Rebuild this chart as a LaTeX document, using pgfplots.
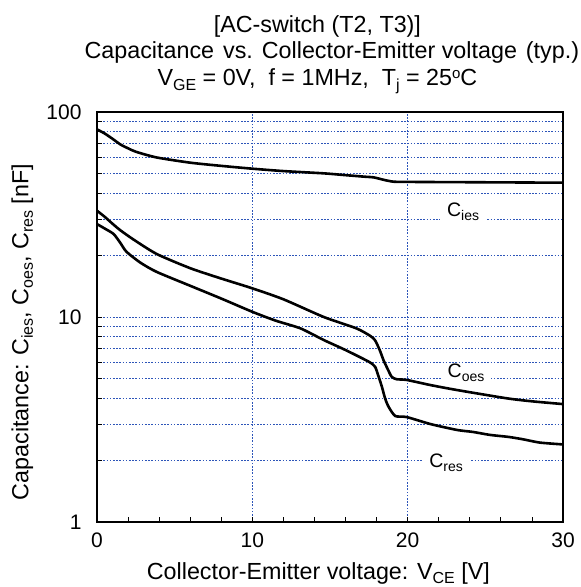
\documentclass[border=0pt]{standalone}
\usepackage{fontspec}
\setmainfont{Liberation Sans}
\usepackage{pgfplots}
\pgfplotsset{compat=1.18}
\newcommand\ft{\fontsize{23.3bp}{27bp}\selectfont}
\newcommand\fl{\fontsize{23.3bp}{27bp}\selectfont}
\newcommand\fk{\fontsize{21bp}{24bp}\selectfont}
\newcommand\fc{\fontsize{19.5bp}{23bp}\selectfont}
\newcommand\sbs[1]{\raisebox{-4.5bp}{\fontsize{16bp}{16bp}\selectfont #1}}
\newcommand\sbc[1]{\raisebox{-4bp}{\fontsize{14bp}{14bp}\selectfont #1}}
\newcommand\sps[1]{\raisebox{7.5bp}{\fontsize{15bp}{15bp}\selectfont #1}}
\definecolor{gridblue}{RGB}{45,85,185}
\begin{document}
\begin{tikzpicture}
\useasboundingbox (-97bp,-65bp) rectangle (484bp,522bp);
\begin{axis}[
  at={(0,0)}, anchor=south west,
  scale only axis, width=466bp, height=410bp,
  ymode=log, xmin=0, xmax=30, ymin=1, ymax=100,
  xtick={0,10,20,30}, minor xtick={2,4,...,28},
  ytick={1,10,100}, yticklabels={1,10,100},
  xtick pos=left, ytick pos=left, tick align=inside,
  major tick length=5bp, minor tick length=5bp,
  xmajorgrids, ymajorgrids, yminorgrids,
  grid style={gridblue, line width=0.8bp, dash pattern=on 1.6bp off 1.6bp},
  major grid style={gridblue, line width=0.8bp, dash pattern=on 1.6bp off 1.6bp},
  minor grid style={gridblue, line width=0.8bp, dash pattern=on 1.6bp off 1.6bp},
  axis line style={black, line width=1.2bp},
  tick style={black, line width=0.8bp},
  /pgf/number format/assume math mode=true,
  every tick label/.append style={font=\fk},
  yticklabel style={xshift=-12bp},
  xticklabel style={yshift=-7bp},
  clip mode=individual,
]
\addplot[black, line width=2.6bp, smooth, tension=0.4] coordinates {
(0,82.3)(0.5,78.5)(1,74)(1.5,69.5)(2,66.5)(2.5,64)(3.84,60)(6,56.6)(8,54.6)(10,52.9)(12,51.5)(14.6,50.2)(16,49.2)(17.3,48.3)(17.8,48)(18.5,46.6)(19.1,45.7)(20,45.6)(25,45.4)(30,45.2)
};
\addplot[black, line width=2.6bp, smooth, tension=0.4] coordinates {
(0,33)(0.5,30.8)(1,28.5)(1.5,26.5)(2.34,23.9)(3.84,20.3)(6,17.3)(8,15.4)(10,13.8)(12,12.2)(14.6,10)(16.7,8.8)(17.6,8.08)(17.9,7.7)(18.2,6.9)(18.44,6.17)(18.7,5.6)(18.97,5.11)(19.3,4.97)(19.94,4.93)(21.5,4.65)(23.2,4.40)(26.4,4.01)(28,3.88)(30,3.76)
};
\addplot[black, line width=2.6bp, smooth, tension=0.4] coordinates {
(0,28.4)(0.5,27)(1.07,25.4)(1.5,23)(1.9,20.8)(2.8,18.4)(3.84,16.6)(6,14.2)(8,12.3)(10,10.6)(11.5,9.6)(13.1,8.8)(14.6,7.72)(16,6.9)(17.5,6.05)(17.9,5.72)(18.1,5.2)(18.34,4.57)(18.55,4.0)(18.77,3.65)(19.2,3.29)(19.94,3.25)(21.5,3.0)(23.2,2.81)(24.2,2.75)(25.3,2.66)(26.5,2.6)(27.45,2.53)(28.5,2.44)(30,2.39)
};
\node[fill=white, inner xsep=7bp, inner ysep=1bp, font=\fc] at (axis cs:23.57,32.5) {C\sbc{ies}};
\node[fill=white, inner xsep=7bp, inner ysep=1bp, font=\fc] at (axis cs:23.76,5.33) {C\sbc{oes}};
\node[fill=white, inner xsep=7bp, inner ysep=1bp, font=\fc] at (axis cs:22.47,1.94) {C\sbc{res}};
\node[anchor=base, font=\fl] at (rel axis cs:0.475,0) [yshift=-57bp] {Collector-Emitter voltage: V\sbs{CE} [V]};
\node[xshift=-68.5bp, anchor=base, rotate=90, font=\fl] at (rel axis cs:0,0.463) {Capacitance: C\sbs{ies},  C\sbs{oes},  C\sbs{res} [nF]};
\node[anchor=base, font=\ft] at (rel axis cs:0.473,1) [yshift=79bp] {[AC-switch (T2, T3)]};
\node[anchor=base, font=\ft] at (rel axis cs:0.504,1) [yshift=53bp] {Capacitance\hspace{9bp}vs.\hspace{9bp}Collector-Emitter voltage\hspace{9bp}(typ.)};
\node[anchor=base, font=\ft] at (rel axis cs:0.473,1) [yshift=26bp] {V\sbs{GE} = 0V,~ f = 1MHz,~ T\sbs{j} = 25\sps{o}C};
\end{axis}
\end{tikzpicture}
\end{document}
